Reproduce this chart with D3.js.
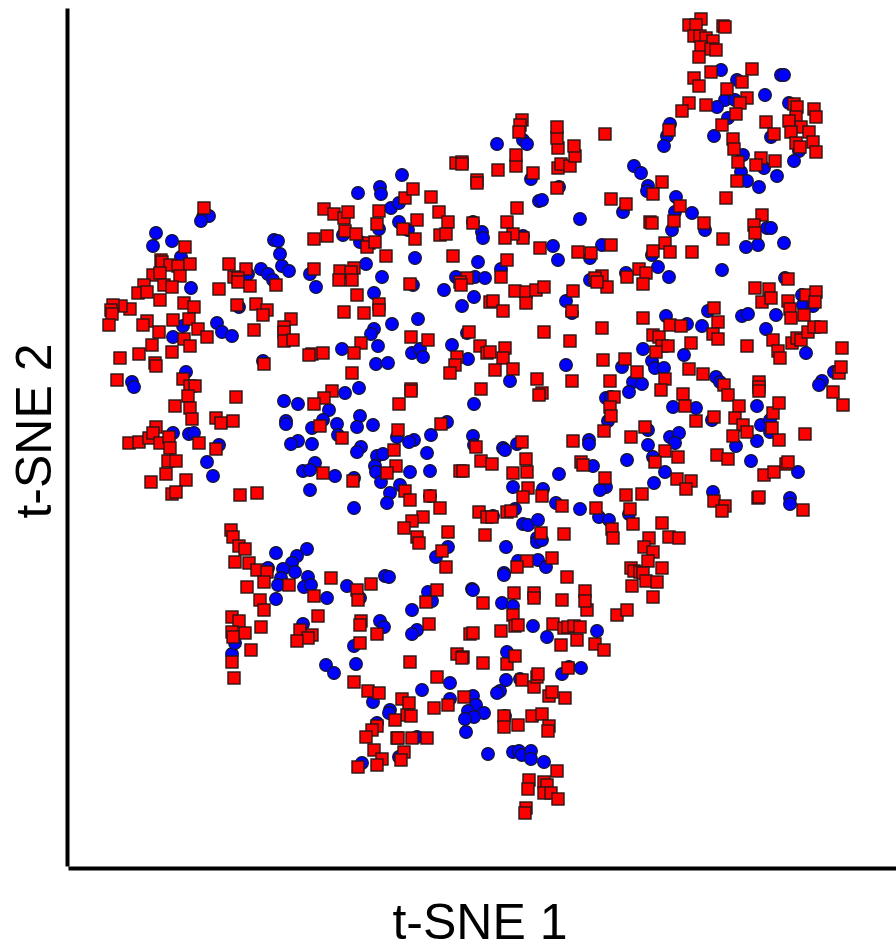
<!DOCTYPE html>
<html><head><meta charset="utf-8">
<script src="https://cdn.jsdelivr.net/npm/d3@7"></script>
<style>html,body{margin:0;padding:0;background:#fff;overflow:hidden}</style>
</head><body><div id="chart"></div>
<script>
const xLabel = "t-SNE 1";
const yLabel = "t-SNE 2";
// embedding readings, [t-SNE 1, t-SNE 2] in arbitrary units
const classBlue = [
[402,175],[380,187],[381,194],[358,193],[391,208],[399,203],[399,222],[408,230],[379,229],[343,235],[360,242],[415,258],[366,264],[382,277],[203,217],[209,216],[201,221],[156,233],[153,246],[172,241],[181,257],[274,240],[278,241],[280,254],[282,266],[289,271],[261,269],[268,274],[273,280],[248,274],[310,274],[473,222],[482,232],[483,238],[478,262],[456,277],[475,277],[485,278],
[721,70],[737,80],[781,75],[784,75],[765,95],[725,100],[735,100],[717,107],[728,118],[714,136],[789,103],[670,124],[667,136],[664,146],[771,137],[743,155],[799,151],[794,161],[764,168],[777,176],[741,172],[747,181],[759,187],[634,166],[641,173],[648,186],[647,191],[676,197],[675,212],[692,213],[623,212],[672,230],[705,230],[767,228],[771,228],[784,243],[758,245],[746,247],[580,219],[539,201],[542,200],[559,187],[531,179],[497,144],[523,140],[527,144],[523,236],[553,246],[558,260],[590,258],[602,245],[652,255],[658,267],[722,270],[669,277],[501,269],[626,273],[590,280],[785,278],
[191,288],[316,287],[374,293],[444,290],[474,297],[462,306],[239,307],[413,285],[392,324],[418,319],[374,329],[371,334],[217,323],[222,332],[232,336],[183,326],[173,337],[342,349],[378,346],[376,364],[388,363],[412,353],[420,349],[423,357],[452,345],[468,359],[467,333],[263,361],[186,372],[132,382],[134,387],[359,388],[345,393],[284,401],[298,404],[329,410],[286,421],[286,424],[323,420],[337,424],[312,428],[360,416],[357,427],[373,425],[338,435],[474,404],[447,422],[431,435],[414,440],[409,442],[397,437],[473,436],[474,445],[173,433],[189,434],[194,433],[219,445],[207,462],[213,476],[298,441],[291,444],[312,444],[361,447],[357,452],[377,456],[383,454],[427,453],[315,463],[303,471],[310,470],[335,476],[354,478],[375,466],[376,472],[410,472],[430,471],[381,482],[400,485],[390,493],[387,503],[310,490],[354,508],[430,496],
[566,301],[572,313],[708,311],[666,316],[687,324],[702,326],[742,316],[748,314],[776,315],[766,329],[802,295],[803,305],[813,306],[643,349],[684,355],[806,353],[622,367],[566,365],[652,361],[655,368],[664,368],[510,381],[633,382],[642,384],[629,392],[606,398],[611,397],[608,421],[673,407],[696,408],[712,420],[716,377],[720,382],[757,406],[761,425],[770,420],[770,432],[757,441],[736,446],[751,461],[798,472],[834,372],[822,381],[819,385],[648,430],[670,437],[679,433],[675,443],[648,445],[653,457],[627,460],[589,440],[589,444],[593,466],[559,474],[665,472],[654,483],[606,487],[600,490],[503,448],[505,450],[517,444],[513,487],[543,489],[556,503],[580,509],[515,509],[493,516],[523,524],[528,525],[538,520],[599,517],[609,520],[629,514],[713,492],[790,498],[790,504],[537,538],
[276,553],[307,549],[297,556],[292,563],[283,569],[268,568],[295,572],[281,578],[278,585],[308,577],[304,587],[311,585],[276,599],[327,598],[347,586],[360,598],[385,576],[389,577],[448,547],[436,557],[428,592],[432,601],[412,610],[472,589],[473,590],[506,547],[537,542],[542,540],[518,561],[538,560],[546,567],[504,573],[504,575],[502,603],[513,606],[533,626],[547,637],[597,631],[303,624],[380,621],[384,627],[417,630],[412,634],[354,646],[326,665],[334,673],[356,664],[232,654],[235,643],[507,652],[506,680],[520,679],[500,691],[497,693],[569,667],[562,674],[581,668],[450,683],[422,690],[450,699],[473,696],[476,705],[468,711],[484,713],[474,717],[465,719],[466,732],[488,754],[373,702],[390,710],[389,713],[377,723],[417,737],[362,763],[399,757],[513,752],[519,751],[522,755],[531,751],[531,759],[544,762],[505,716]
];
const classRed = [
[204,208],[185,247],[161,260],[162,262],[170,265],[178,266],[190,264],[153,275],[160,273],[180,276],[229,264],[246,269],[234,277],[238,278],[314,269],[340,271],[354,268],[351,272],[339,280],[352,280],[324,209],[334,214],[344,218],[348,212],[314,239],[327,236],[345,231],[356,234],[369,243],[367,247],[375,242],[379,211],[377,224],[386,256],[405,198],[413,189],[431,197],[439,212],[417,220],[448,222],[403,229],[415,239],[440,235],[446,234],[453,256],[473,223],[456,163],[462,162],[462,164],[477,180],[477,183],[467,278],[460,282],
[701,19],[689,25],[696,25],[694,36],[700,36],[706,38],[723,26],[725,27],[713,41],[701,47],[711,49],[716,50],[699,57],[711,72],[752,69],[694,78],[699,86],[742,82],[727,89],[747,98],[740,103],[689,103],[682,111],[706,105],[736,114],[722,125],[669,130],[794,104],[797,107],[814,109],[816,117],[796,117],[789,121],[801,127],[766,122],[774,134],[791,132],[809,132],[813,142],[796,143],[800,147],[816,152],[733,139],[734,149],[738,162],[761,158],[756,165],[775,161],[737,181],[726,198],[662,182],[653,194],[611,199],[626,204],[680,206],[674,221],[650,222],[652,223],[704,223],[723,239],[762,215],[754,225],[755,233],[665,243],[653,251],[670,252],[692,252],[611,245],[591,253],[578,252],[540,248],[523,238],[513,234],[505,238],[507,222],[517,208],[557,188],[533,173],[498,170],[516,166],[516,155],[558,168],[561,164],[570,166],[575,156],[574,146],[558,148],[557,138],[557,127],[605,134],[522,120],[520,125],[519,132],[507,260],[501,277],[602,276],[595,278],[639,269],[646,273],[627,277],[788,279],
[144,285],[138,293],[147,292],[164,285],[172,287],[219,289],[238,282],[250,286],[276,285],[160,300],[184,303],[194,307],[130,309],[121,306],[113,305],[111,310],[112,314],[109,325],[147,321],[143,325],[173,320],[189,319],[159,332],[198,329],[207,337],[184,339],[152,345],[190,346],[139,354],[172,352],[120,358],[155,363],[156,366],[237,305],[256,304],[267,310],[263,315],[254,330],[291,319],[284,327],[284,332],[284,341],[293,340],[312,354],[309,355],[323,353],[264,364],[357,295],[344,312],[364,313],[379,304],[379,310],[361,343],[354,353],[411,337],[428,340],[410,284],[461,285],[490,302],[469,332],[480,346],[457,357],[455,365],[450,373],[487,353],[352,373],[332,391],[324,398],[314,404],[411,389],[411,391],[399,404],[481,389],[117,380],[183,379],[190,386],[195,386],[188,396],[175,406],[190,408],[192,419],[236,397],[216,418],[221,423],[233,421],[156,427],[129,443],[139,442],[149,438],[153,433],[160,443],[169,437],[170,448],[168,461],[176,461],[199,443],[216,449],[166,474],[151,482],[186,480],[172,494],[176,492],[240,495],[257,493],[231,530],[233,537],[320,426],[342,438],[323,473],[353,481],[398,430],[394,450],[396,466],[387,473],[405,491],[410,500],[430,496],[440,508],[441,424],[476,447],[481,461],[460,471],[463,471],[479,512],[487,517],[423,517],[412,521],[404,528],[417,537],[448,532],[485,535],
[515,291],[526,292],[536,290],[544,287],[526,303],[493,301],[503,311],[573,291],[572,311],[607,287],[597,282],[643,284],[643,318],[602,328],[544,332],[570,341],[603,360],[505,348],[503,358],[495,370],[513,369],[490,352],[537,379],[542,393],[539,395],[572,381],[625,359],[637,372],[610,381],[614,397],[610,407],[611,416],[604,431],[653,335],[659,337],[670,325],[681,326],[662,346],[668,346],[656,352],[691,343],[714,308],[718,322],[713,334],[718,339],[689,369],[703,374],[665,379],[661,390],[724,385],[728,395],[739,406],[683,394],[685,406],[696,421],[714,417],[735,418],[743,425],[747,432],[733,436],[645,427],[631,437],[573,441],[522,442],[526,459],[527,472],[513,473],[492,464],[581,462],[583,465],[665,451],[678,457],[655,462],[717,455],[728,459],[677,479],[691,481],[686,489],[605,478],[626,495],[642,494],[528,488],[523,497],[542,496],[562,506],[507,512],[511,511],[492,517],[596,508],[630,509],[633,524],[662,523],[612,529],[613,538],[541,533],[564,534],[649,538],[669,537],[679,538],[714,501],[725,506],[722,511],[758,498],[759,497],[803,510],[764,475],[774,472],[786,464],[788,462],[805,434],[779,440],[772,428],[773,413],[779,403],[759,382],[759,387],[759,391],[833,392],[843,405],[839,373],[841,367],[842,348],[747,346],[773,340],[792,343],[797,338],[801,340],[808,332],[814,327],[821,327],[778,351],[780,358],[755,288],[769,289],[762,302],[771,298],[788,301],[790,309],[791,318],[804,315],[806,295],[816,292],[815,302],
[239,546],[245,549],[235,562],[249,563],[257,570],[267,572],[264,582],[247,587],[289,585],[260,600],[264,610],[314,596],[331,578],[371,584],[357,590],[358,600],[318,616],[261,627],[232,617],[239,621],[232,632],[245,633],[233,637],[251,650],[232,662],[234,678],[300,630],[312,635],[308,638],[297,641],[361,621],[360,625],[377,634],[360,643],[354,682],[368,691],[379,693],[402,699],[409,703],[407,715],[411,716],[395,720],[377,726],[372,730],[366,737],[397,738],[398,738],[412,738],[427,738],[374,750],[404,752],[382,759],[401,760],[377,765],[358,767],[437,677],[434,708],[448,705],[464,697],[410,662],[429,624],[426,602],[437,590],[442,551],[446,567],[419,543],[483,603],[514,593],[513,615],[515,626],[518,625],[534,593],[534,598],[562,600],[567,577],[552,558],[527,561],[517,567],[470,634],[473,633],[501,631],[457,654],[463,657],[462,658],[483,663],[507,664],[515,656],[522,680],[534,687],[537,677],[538,674],[549,696],[552,692],[565,698],[568,668],[504,716],[504,727],[518,725],[532,716],[542,714],[549,726],[548,731],[557,771],[529,780],[528,789],[544,782],[547,785],[544,793],[551,793],[558,799],[526,808],[525,813],[553,624],[564,628],[568,627],[574,626],[580,627],[577,640],[561,645],[595,644],[604,650],[587,610],[585,591],[585,601],[617,615],[627,610],[632,586],[631,568],[634,571],[640,572],
[644,547],[653,552],[648,561],[643,573],[662,568],[646,581],[657,582],[653,597]
];
const xDomain = [68, 896];
const yDomain = [8, 866];

const width = 896, height = 944;
const svg = d3.select("#chart").append("svg").attr("width", width).attr("height", height)
  .style("display","block").style("font-family","'Liberation Sans', Arial, sans-serif");
const x = d3.scaleLinear().domain(xDomain).range([68, 896]);
const y = d3.scaleLinear().domain(yDomain).range([8, 866]);

svg.append("g").selectAll("circle").data(classBlue).join("circle")
  .attr("cx", d => x(d[0])).attr("cy", d => y(d[1])).attr("r", 6.4)
  .attr("fill", "#0000ff").attr("stroke", "#15151f").attr("stroke-width", 1.1);

const sq = 12;
svg.append("g").selectAll("rect").data(classRed).join("rect")
  .attr("x", d => x(d[0]) - sq/2).attr("y", d => y(d[1]) - sq/2).attr("width", sq).attr("height", sq)
  .attr("fill", "#ff0000").attr("stroke", "#2a1515").attr("stroke-width", 1.4);

const axisX = d3.axisBottom(x).tickValues([]).tickSize(0);
const axisY = d3.axisLeft(y).tickValues([]).tickSize(0);
svg.append("g").attr("transform", "translate(0,868)").call(axisX)
  .select(".domain").attr("stroke", "#000").attr("stroke-width", 4);
svg.append("g").attr("transform", "translate(67,0)").call(axisY)
  .select(".domain").attr("stroke", "#000").attr("stroke-width", 4);

svg.append("text").attr("x", 480).attr("y", 939).attr("text-anchor", "middle")
  .attr("font-size", 50).attr("fill", "#000").text(xLabel);
svg.append("text").attr("transform", "translate(51,431) rotate(-90)").attr("text-anchor", "middle")
  .attr("font-size", 50).attr("fill", "#000").text(yLabel);
</script></body></html>
